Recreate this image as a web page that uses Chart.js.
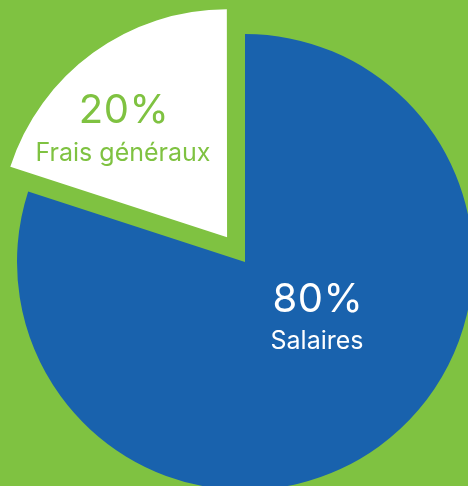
<!DOCTYPE html>
<html lang="fr">
<head>
<meta charset="utf-8">
<title>Répartition des dépenses</title>
<script src="https://cdn.jsdelivr.net/npm/chart.js@4.4.1/dist/chart.umd.min.js"></script>
<style>
  html, body { margin: 0; padding: 0; background: #7fc241; }
  #chart { display: block; }
</style>
</head>
<body>
<canvas id="chart" width="468" height="486"></canvas>
<script>
// Données du graphique
const categories = ['Salaires', 'Frais généraux'];
const values = [80, 20];
const sliceColors = ['#1962ad', '#ffffff'];
const labelColors = ['#ffffff', '#7fc241'];
const explode = [0, 122]; // Chart.js translates by offset / 4

// Textes dessinés sur les parts
const labelPlugin = {
    id: 'sliceLabels',
    afterDatasetsUpdate(chart) {
        // keep the exploded slice at the same radius as the other one
        const meta = chart.getDatasetMeta(0);
        meta.data.forEach((arc, i) => {
            if (!explode[i]) return;
            const fix = 1 - Math.sin(Math.min(Math.PI, arc.circumference));
            arc.outerRadius = arc.outerRadius - explode[i] / 4 * fix;
        });
    },
    afterDraw(chart) {
        const ctx = chart.ctx;
        const pos = [
            { x: 317, y1: 312, y2: 349 },
            { x: 123, y1: 123, y2: 161 }
        ];
        ctx.save();
        ctx.textAlign = 'center';
        ctx.textBaseline = 'alphabetic';
        values.forEach((v, i) => {
            ctx.fillStyle = labelColors[i];
            ctx.letterSpacing = '0.5px';
            ctx.font = '40px Inter';
            ctx.fillText(v + '%', pos[i].x + 1, pos[i].y1);
            ctx.letterSpacing = '0px';
            ctx.font = '25px Inter';
            ctx.fillText(categories[i], pos[i].x, pos[i].y2);
        });
        ctx.restore();
    }
};

new Chart(document.getElementById('chart'), {
    type: 'pie',
    data: {
        labels: categories,
        datasets: [{
            data: values,
            backgroundColor: sliceColors,
            borderWidth: 0,
            offset: explode
        }]
    },
    options: {
        responsive: false,
        animation: false,
        radius: 228,
        events: [],
        layout: { padding: { left: 22, right: 0, top: 38, bottom: 0 } },
        plugins: {
            legend: { display: false },
            tooltip: { enabled: false }
        }
    },
    plugins: [labelPlugin]
});
</script>
</body>
</html>
